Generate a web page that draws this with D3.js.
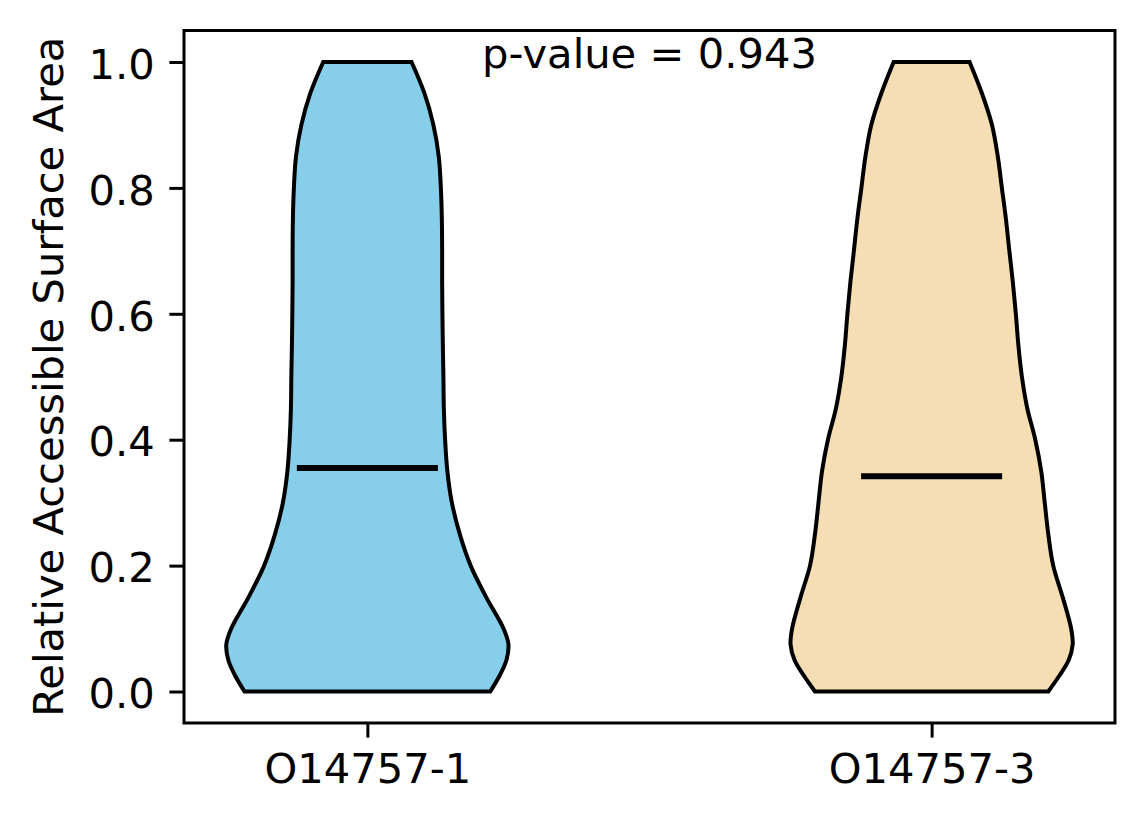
<!DOCTYPE html>
<html lang="en">
<head>
<meta charset="UTF-8">
<title>Violin plot - Relative ASA</title>
<script src="https://d3js.org/d3.v7.min.js"></script>
<style>
    body { margin: 0; background: #fff; }
    svg text { font-family: "DejaVu Sans", sans-serif; fill: #000; }
</style>
</head>
<body>
<script>
// isoforms (x categories) and their positions
const categories = ["O14757-1", "O14757-3"];
const positions = [1, 2];
const fillColors = ["#87CEEB", "#F5DEB3"];

// rASA levels at which the violin outline was read
const levels = [0, 0.025, 0.05, 0.075, 0.1, 0.15, 0.2, 0.25, 0.3, 0.35, 0.4, 0.45,
                0.5, 0.55, 0.6, 0.65, 0.7, 0.75, 0.8, 0.85, 0.9, 0.95, 1.0];

// relative density (max = 1) for each isoform at the levels above
const density1 = [0.871, 0.937, 0.986, 1.0, 0.965, 0.842, 0.732, 0.655, 0.599, 0.567, 0.551, 0.542,
                  0.539, 0.535, 0.532, 0.530, 0.530, 0.528, 0.521, 0.506, 0.468, 0.405, 0.313];
const density3 = [0.827, 0.905, 0.972, 1.0, 0.989, 0.929, 0.862, 0.827, 0.802, 0.777, 0.735, 0.678,
                  0.640, 0.615, 0.597, 0.576, 0.551, 0.527, 0.498, 0.469, 0.428, 0.357, 0.269];

const medians = [0.355, 0.342];
const yTicks = [0.0, 0.2, 0.4, 0.6, 0.8, 1.0];
const pValue = 0.943;
const yLabel = "Relative Accessible Surface Area";

const W = 1144, H = 824;
const plot = { left: 184, right: 1115, top: 30.5, bottom: 723 };
const violinWidth = 0.5;
const fontPx = 41.67;
const tickLen = 14.6;

const svg = d3.select("body").append("svg")
    .attr("width", W)
    .attr("height", H);

const x = d3.scaleLinear()
    .domain([0.675, 2.325])
    .range([plot.left, plot.right]);

const y = d3.scaleLinear()
    .domain([-0.05, 1.05])
    .range([plot.bottom, plot.top]);

// violins
const densities = [density1, density3];
densities.forEach((dens, i) => {
    const pos = positions[i];
    const maxD = d3.max(dens);
    const pts = levels.map((v, j) => ({ v: v, w: dens[j] / maxD * violinWidth / 2 }));

    const area = d3.area()
        .y(d => y(d.v))
        .x0(d => x(pos - d.w))
        .x1(d => x(pos + d.w))
        .curve(d3.curveCatmullRom.alpha(0.5));

    svg.append("path")
        .datum(pts)
        .attr("d", area)
        .attr("fill", fillColors[i])
        .attr("stroke", "#000")
        .attr("stroke-width", 4);

    // median line
    svg.append("line")
        .attr("x1", x(pos - violinWidth / 4))
        .attr("x2", x(pos + violinWidth / 4))
        .attr("y1", y(medians[i]))
        .attr("y2", y(medians[i]))
        .attr("stroke", "#000")
        .attr("stroke-width", 6);
});

// axes
const yAxis = d3.axisLeft(y)
    .tickValues(yTicks)
    .tickFormat(d3.format(".1f"))
    .tickSize(tickLen)
    .tickPadding(tickLen);

const gy = svg.append("g")
    .attr("transform", `translate(${plot.left},0)`)
    .call(yAxis);
gy.select(".domain").remove();
gy.selectAll(".tick line").attr("stroke", "#000").attr("stroke-width", 3);
gy.selectAll(".tick text")
    .attr("font-size", fontPx)
    .attr("dy", "0.39em");

const xAxis = d3.axisBottom(x)
    .tickValues(positions)
    .tickFormat((d, i) => categories[i])
    .tickSize(tickLen)
    .tickPadding(tickLen);

const gx = svg.append("g")
    .attr("transform", `translate(0,${plot.bottom})`)
    .call(xAxis);
gx.select(".domain").remove();
gx.selectAll(".tick line").attr("stroke", "#000").attr("stroke-width", 3);
gx.selectAll(".tick text")
    .attr("font-size", fontPx)
    .attr("dy", "0.74em");

// frame
svg.append("rect")
    .attr("x", plot.left)
    .attr("y", plot.top)
    .attr("width", plot.right - plot.left)
    .attr("height", plot.bottom - plot.top)
    .attr("fill", "none")
    .attr("stroke", "#000")
    .attr("stroke-width", 3);

// y label
svg.append("text")
    .attr("transform", `translate(63,${(plot.top + plot.bottom) / 2}) rotate(-90)`)
    .attr("text-anchor", "middle")
    .attr("font-size", fontPx)
    .text(yLabel);

// p-value annotation
svg.append("text")
    .attr("x", x(1.5))
    .attr("y", y(1.0) + 6)
    .attr("text-anchor", "middle")
    .attr("font-size", fontPx)
    .text(`p-value = ${pValue}`);
</script>
</body>
</html>
